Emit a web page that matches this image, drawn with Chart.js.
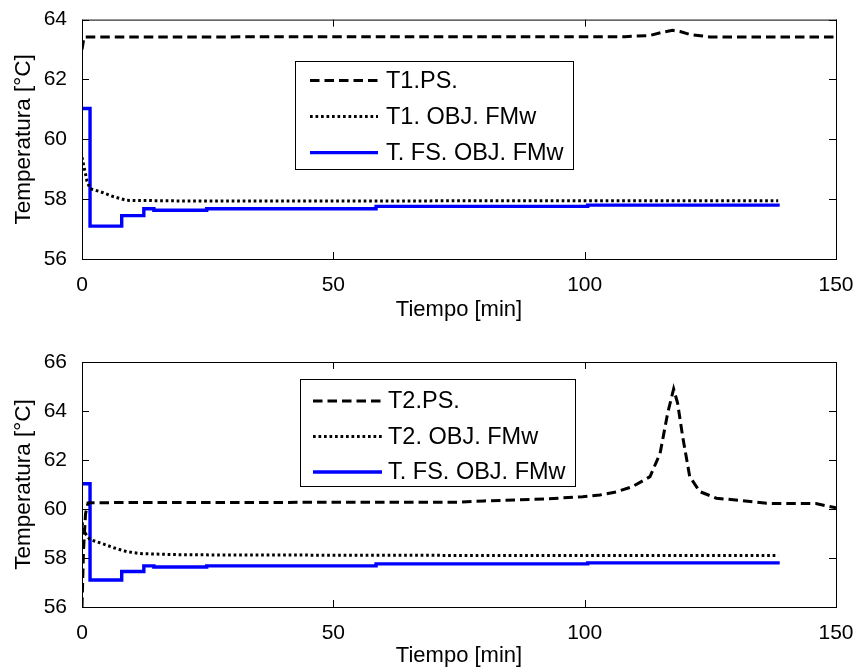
<!DOCTYPE html>
<html>
<head>
<meta charset="utf-8">
<script src="https://cdn.jsdelivr.net/npm/chart.js@4.4.1/dist/chart.umd.min.js"></script>
<style>
  body { margin: 0; background: #fff; }
  .panel { position: absolute; left: 0; width: 862px; height: 336px; }
</style>
</head>
<body>
<div class="panel" style="top:0"><canvas id="chartTop" width="862" height="336"></canvas></div>
<div class="panel" style="top:336px"><canvas id="chartBottom" width="862" height="336"></canvas></div>
<script>
// tick labels
const xTicks = [0, 50, 100, 150];
const yTicksTop = [56, 58, 60, 62, 64];
const yTicksBottom = [56, 58, 60, 62, 64, 66];

// top plot: T1
const tPS1 = [0, 0.4, 108, 113, 115.5, 117.5, 119, 121, 123, 125, 150];
const vPS1 = [63.0, 63.42, 63.43, 63.47, 63.58, 63.64, 63.6, 63.5, 63.46, 63.42, 63.42];

const tObj1 = [0, 0.5, 1, 1.6, 3.6, 6.3, 8.9, 20, 60, 100, 138.5];
const vObj1 = [59.4, 59.0, 58.6, 58.35, 58.25, 58.08, 57.96, 57.94, 57.94, 57.95, 57.95];

// stairs, shared by both plots
const tFS = [0, 1.6, 7.9, 12.3, 14.3, 24.8, 58.5, 100.6, 138.8];
const vFS = [61.03, 57.1, 57.45, 57.68, 57.63, 57.68, 57.76, 57.8, 57.8];

// bottom plot: T2
const tPS2 = [0, 0.3, 0.7, 1.2, 10, 40, 75, 80, 92, 99.6, 103, 106.3, 109.5, 113, 115, 116.5, 117.7, 118.5, 119.5, 120.9, 122.9, 126.2, 131.4, 136.2, 146, 150];
const vPS2 = [56.0, 58.3, 59.8, 60.25, 60.27, 60.27, 60.28, 60.33, 60.41, 60.5, 60.57, 60.7, 60.91, 61.32, 62.27, 63.9, 64.9, 64.31, 62.95, 61.32, 60.71, 60.44, 60.34, 60.23, 60.22, 60.05];

const tObj2 = [0, 0.5, 1.6, 3.6, 6.3, 8.9, 11.6, 20, 60, 100, 138.5];
const vObj2 = [59.45, 59.05, 58.75, 58.62, 58.42, 58.26, 58.18, 58.13, 58.11, 58.1, 58.1];

const FONT = 'Liberation Sans, Arial, sans-serif';
const pts = (t, v) => t.map((x, i) => ({ x: x, y: v[i] }));

// box with inner ticks + legend, MATLAB style
const matlabAxes = {
    id: 'matlabAxes',
    afterDraw(chart, args, opts) {
        const { ctx, chartArea: a, scales: { x, y } } = chart;
        ctx.save();
        ctx.strokeStyle = '#000';
        ctx.lineWidth = 1;
        ctx.strokeRect(a.left + 0.5, a.top + 0.5, a.right - a.left, a.bottom - a.top);
        ctx.beginPath();
        x.ticks.forEach(t => {
            const px = Math.round(x.getPixelForValue(t.value)) + 0.5;
            ctx.moveTo(px, a.bottom); ctx.lineTo(px, a.bottom - 7);
            ctx.moveTo(px, a.top); ctx.lineTo(px, a.top + 7);
        });
        y.ticks.forEach(t => {
            const py = Math.round(y.getPixelForValue(t.value)) + 0.5;
            ctx.moveTo(a.left, py); ctx.lineTo(a.left + 7, py);
            ctx.moveTo(a.right, py); ctx.lineTo(a.right - 7, py);
        });
        ctx.stroke();

        // legend
        const L = opts.box;
        const bx = a.left + L.left, by = a.top + L.top;
        ctx.fillStyle = '#fff';
        ctx.fillRect(bx, by, L.width, L.height);
        ctx.strokeRect(Math.round(bx) + 0.5, Math.round(by) + 0.5, L.width, L.height);
        ctx.font = opts.fontSize + 'px ' + FONT;
        ctx.textBaseline = 'middle';
        ctx.textAlign = 'left';
        chart.data.datasets.forEach((ds, i) => {
            const ry = by + L.firstRow + i * L.rowGap;
            ctx.save();
            ctx.strokeStyle = ds.borderColor;
            ctx.lineWidth = ds.borderWidth;
            ctx.setLineDash(ds.borderDash || []);
            ctx.beginPath();
            ctx.moveTo(bx + L.lineX0, ry);
            ctx.lineTo(bx + L.lineX1, ry);
            ctx.stroke();
            ctx.restore();
            ctx.fillStyle = '#000';
            ctx.fillText(ds.label, bx + L.textX, ry + 1);
        });
        ctx.restore();
    }
};

function makeChart(id, sets, yTicks, opt) {
    const ctx = document.querySelector(id).getContext('2d');
    return new Chart(ctx, {
        type: 'line',
        data: {
            datasets: [{
                label: sets[0].label,
                data: pts(sets[0].t, sets[0].v),
                borderColor: '#000',
                borderWidth: 3,
                borderDash: [9.5, 5]
            }, {
                label: sets[1].label,
                data: pts(sets[1].t, sets[1].v),
                borderColor: '#000',
                borderWidth: 3,
                borderDash: [2.7, 2.8]
            }, {
                label: 'T. FS. OBJ. FMw',
                data: pts(tFS, vFS),
                borderColor: '#0000ff',
                borderWidth: 3.4,
                stepped: 'before'
            }]
        },
        options: {
            responsive: false,
            animation: false,
            devicePixelRatio: 1,
            elements: { point: { radius: 0 }, line: { tension: 0, borderCapStyle: 'butt' } },
            layout: { padding: { left: 0, right: 26, top: opt.top, bottom: 0 } },
            plugins: {
                legend: { display: false },
                tooltip: { enabled: false },
                matlabAxes: { box: opt.legend, fontSize: 23.5 }
            },
            scales: {
                x: {
                    type: 'linear',
                    min: 0,
                    max: 150,
                    afterBuildTicks: s => { s.ticks = xTicks.map(v => ({ value: v })); },
                    afterFit: s => { s.height = opt.xHeight; },
                    grid: { display: false },
                    border: { display: false },
                    ticks: { color: '#000', padding: 6, font: { family: FONT, size: 21 } },
                    title: {
                        display: true,
                        text: 'Tiempo [min]',
                        color: '#000',
                        font: { family: FONT, size: 22 },
                        padding: { top: 0, bottom: opt.titleBottom }
                    }
                },
                y: {
                    min: yTicks[0],
                    max: yTicks[yTicks.length - 1],
                    afterBuildTicks: s => { s.ticks = yTicks.map(v => ({ value: v })); },
                    afterFit: s => { s.width = 82; },
                    grid: { display: false },
                    border: { display: false },
                    ticks: { color: '#000', padding: 7, font: { family: FONT, size: 21 } },
                    title: {
                        display: true,
                        text: 'Temperatura [°C]',
                        color: '#000',
                        font: { family: FONT, size: 22.5 },
                        padding: { top: 10, bottom: 0 }
                    }
                }
            }
        },
        plugins: [matlabAxes]
    });
}

makeChart('#chartTop', [
    { label: 'T1.PS.', t: tPS1, v: vPS1 },
    { label: 'T1. OBJ. FMw', t: tObj1, v: vObj1 }
], yTicksTop, {
    top: 14, xHeight: 77, titleBottom: 13,
    legend: { left: 213, top: 41, width: 278, height: 108, firstRow: 20, rowGap: 36, lineX0: 15, lineX1: 83, textX: 91 }
});

makeChart('#chartBottom', [
    { label: 'T2.PS.', t: tPS2, v: vPS2 },
    { label: 'T2. OBJ. FMw', t: tObj2, v: vObj2 }
], yTicksBottom, {
    top: 26, xHeight: 65, titleBottom: 3,
    legend: { left: 218, top: 17, width: 275, height: 107, firstRow: 22, rowGap: 35.5, lineX0: 13, lineX1: 82, textX: 88 }
});
</script>
</body>
</html>
